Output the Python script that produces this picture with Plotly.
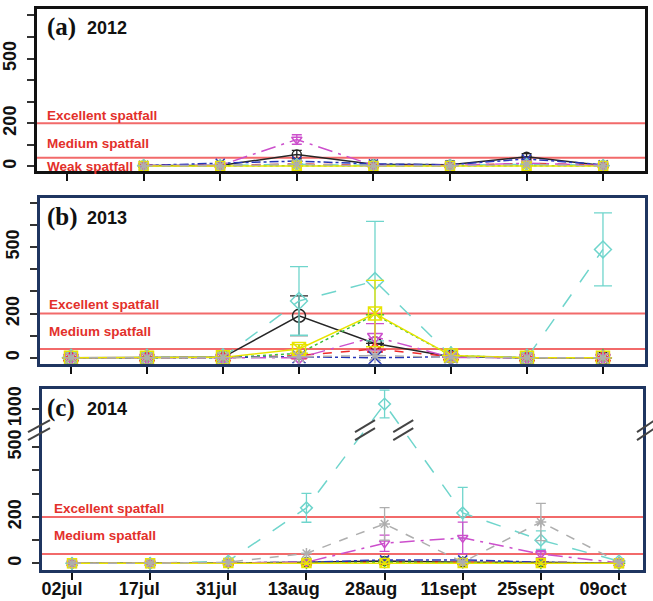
import plotly.graph_objects as go

W, H = 653, 601

dates = ["02jul", "17jul", "31jul", "13aug", "28aug", "11sept", "25sept", "09oct"]

# Spat counts per site, 2012 (no sampling on 02jul)
site1_2012 = [None, 5, 5, 55, 10, 8, 45, 5]
site2_2012 = [None, 8, 5, 12, 5, 5, 15, 5]
site3_2012 = [None, 3, 3, 5, 3, 3, 5, 3]
site4_2012 = [None, 5, 15, 25, 12, 8, 35, 8]
site5_2012 = [None, 5, 5, 10, 5, 5, 10, 5]
site6_2012 = [None, 5, 5, 125, 5, 5, 15, 5]
site7_2012 = [None, 2, 2, 3, 2, 2, 2, 2]
site8_2012 = [None, 3, 3, 10, 3, 3, 10, 3]
err1_2012 = [0, 0, 0, 20, 0, 0, 15, 0]
err6_2012 = [0, 0, 0, 22, 0, 0, 0, 0]

# 2013
site1_2013 = [0, 0, 2, 190, 65, 5, 0, 0]
site2_2013 = [0, 0, 0, 10, 40, 5, 0, 0]
site3_2013 = [0, 0, 0, 20, 195, 10, 0, 0]
site4_2013 = [0, 0, 2, 5, 0, 5, 0, 0]
site5_2013 = [0, 0, 2, 257, 347, 10, 0, 490]
site6_2013 = [0, 0, 0, 0, 95, 2, 0, 0]
site7_2013 = [0, 0, 2, 40, 200, 10, 0, 0]
site8_2013 = [0, 0, 0, 5, 10, 2, 0, 0]
err1_2013 = [0, 0, 0, 90, 0, 0, 0, 0]
err5_2013 = [0, 0, 0, 155, 270, 0, 0, 165]
err6_2013 = [0, 0, 0, 0, 60, 0, 0, 0]
err7_2013 = [0, 0, 0, 20, 150, 0, 0, 0]

# 2014
site1_2014 = [0, 0, 2, 5, 10, 5, 5, 0]
site2_2014 = [0, 0, 2, 2, 5, 5, 5, 0]
site3_2014 = [0, 0, 2, 2, 5, 5, 2, 0]
site4_2014 = [0, 0, 2, 5, 15, 15, 5, 0]
site5_2014 = [0, 0, 10, 239, 1021, 217, 100, 10]
site6_2014 = [0, 0, 2, 5, 87, 110, 40, 2]
site7_2014 = [0, 0, 2, 2, 2, 2, 2, 0]
site8_2014 = [0, 0, 5, 43, 170, 5, 178, 5]
err5_2014 = [0, 0, 0, 62, 60, 110, 40, 0]
err6_2014 = [0, 0, 0, 0, 35, 68, 15, 0]
err8_2014 = [0, 0, 0, 0, 70, 0, 80, 0]

# Spatfall class thresholds
medium_threshold = 40
excellent_threshold = 200

# Broken axis for 2014: values above the break are shifted down by GAP
BREAK_AT = 574
GAP = 335


def broken(v):
    if v is None:
        return None
    return v if v < BREAK_AT else v - GAP


colors = ["#262626", "#ee2a2a", "#3cbf3c", "#2536b8", "#6fd5cc", "#cc4fcc", "#e8e400", "#aeaeae"]
symbols = ["circle-open", "triangle-up-open", "cross-thin-open", "x-thin-open",
           "diamond-open", "triangle-down-open", "square-x-open", "asterisk-open"]
dashes = ["solid", "dash", "dot", "dashdot", "longdash", "longdashdot", "solid", "dash"]


def px_x(x):
    return x / W


def px_y(y):
    return 1 - y / H


panels = [
    dict(year="2012", tag="(a)", xa="x", ya="y",
         series=[site1_2012, site2_2012, site3_2012, site4_2012,
                 site5_2012, site6_2012, site7_2012, site8_2012],
         errors={0: err1_2012, 5: err6_2012},
         xdom=[px_x(37), px_x(645)], ydom=[px_y(170), px_y(7)],
         xrange=[-0.392, 7.546], yrange=[-23, 730], frame="#111111",
         msize=9, ewidth=5, tfn=lambda v: v,
         title_y=25, exc_y=114, med_y=142, weak_y=165, label_x=45),
    dict(year="2013", tag="(b)", xa="x2", ya="y2",
         series=[site1_2013, site2_2013, site3_2013, site4_2013,
                 site5_2013, site6_2013, site7_2013, site8_2013],
         errors={0: err1_2013, 4: err5_2013, 5: err6_2013, 6: err7_2013},
         xdom=[px_x(40), px_x(645)], ydom=[px_y(363), px_y(197)],
         xrange=[-0.408, 7.553], yrange=[-27, 721], frame="#1f3560",
         msize=13, ewidth=9, tfn=lambda v: v,
         title_y=216, exc_y=304, med_y=331, weak_y=None, label_x=47),
    dict(year="2014", tag="(c)", xa="x3", ya="y3",
         series=[site1_2014, site2_2014, site3_2014, site4_2014,
                 site5_2014, site6_2014, site7_2014, site8_2014],
         errors={4: err5_2014, 5: err6_2014, 7: err8_2014},
         xdom=[px_x(42), px_x(643)], ydom=[px_y(570), px_y(388)],
         xrange=[-0.384, 7.307], yrange=[-29, 752], frame="#1f3560",
         msize=9, ewidth=5, tfn=broken,
         title_y=407, exc_y=508, med_y=535, weak_y=None, label_x=52),
]

fig = go.Figure()
shapes = []
annotations = []

for p in panels:
    for i, vals in enumerate(p["series"]):
        yv = [p["tfn"](v) for v in vals]
        err = p["errors"].get(i)
        ey = None
        if err is not None:
            ey = dict(type="data", array=err, visible=True, color=colors[i],
                      thickness=1.3, width=p["ewidth"])
        fig.add_trace(go.Scatter(
            x=dates, y=yv, mode="lines+markers",
            xaxis=p["xa"], yaxis=p["ya"],
            line=dict(color=colors[i], width=1.5, dash=dashes[i]),
            marker=dict(symbol=symbols[i], size=p["msize"], color=colors[i],
                        line=dict(color=colors[i], width=1.5)),
            error_y=ey, showlegend=False, hoverinfo="skip", connectgaps=False,
        ))

    # spatfall threshold lines
    for thr in (excellent_threshold, medium_threshold):
        shapes.append(dict(type="line", xref=p["xa"] + " domain", yref=p["ya"],
                           x0=0, x1=1, y0=p["tfn"](thr), y1=p["tfn"](thr),
                           line=dict(color="#f26a6a", width=2), layer="below"))

    lab_font = dict(family="Liberation Sans", size=13.5, color="#e3302b", weight="bold")
    annotations.append(dict(text="Excellent spatfall", xref="paper", yref="paper",
                            x=px_x(p["label_x"]), y=px_y(p["exc_y"]), xanchor="left",
                            yanchor="middle", showarrow=False, font=lab_font))
    annotations.append(dict(text="Medium spatfall", xref="paper", yref="paper",
                            x=px_x(p["label_x"]), y=px_y(p["med_y"]), xanchor="left",
                            yanchor="middle", showarrow=False, font=lab_font))
    if p["weak_y"] is not None:
        annotations.append(dict(text="Weak spatfall", xref="paper", yref="paper",
                                x=px_x(p["label_x"]), y=px_y(p["weak_y"]), xanchor="left",
                                yanchor="middle", showarrow=False, font=lab_font))

    annotations.append(dict(text=p["tag"], xref="paper", yref="paper",
                            x=px_x(45), y=px_y(p["title_y"]), xanchor="left", yanchor="middle",
                            showarrow=False,
                            font=dict(family="Liberation Serif", size=25, color="#111", weight="bold")))
    annotations.append(dict(text=p["year"], xref="paper", yref="paper",
                            x=px_x(85), y=px_y(p["title_y"] + 1), xanchor="left", yanchor="middle",
                            showarrow=False,
                            font=dict(family="Liberation Sans", size=18, color="#111", weight="bold")))


# break marks on the 2014 axis and on the series crossing it
def slash_pair(xref, xanchor, dx0, dx1):
    out = []
    for off in (4, -4):
        out.append(dict(type="line", xref=xref, yref="y3",
                        xsizemode="pixel", xanchor=xanchor, x0=dx0, x1=dx1,
                        ysizemode="pixel", yanchor=BREAK_AT, y0=-6 + off, y1=6 + off,
                        line=dict(color="#444444", width=2)))
    return out


cy = site5_2014
for k in range(len(cy) - 1):
    a, b = cy[k], cy[k + 1]
    if (a < BREAK_AT) != (b < BREAK_AT):
        da, db = broken(a), broken(b)
        frac = (BREAK_AT - da) / (db - da)
        shapes += slash_pair("x3", k + frac, -10, 10)
shapes += slash_pair("x3 domain", 0, -14, 8)
shapes += slash_pair("x3 domain", 1, -6, 12)

tick_font = dict(family="Liberation Sans", size=18, color="#111", weight="bold")

layout = dict(
    width=W, height=H, margin=dict(l=0, r=0, t=0, b=0),
    paper_bgcolor="white", plot_bgcolor="rgba(0,0,0,0)",
    shapes=shapes, annotations=annotations, showlegend=False,
)

for n, p in enumerate(panels):
    sx = "" if n == 0 else str(n + 1)
    layout["xaxis" + sx] = dict(
        domain=p["xdom"], anchor=p["ya"], type="category", categoryarray=dates,
        categoryorder="array", range=p["xrange"], showgrid=False, zeroline=False,
        showline=True, mirror=True, linewidth=3, linecolor=p["frame"],
        ticks="outside", ticklen=7, tickwidth=2, tickcolor="#111",
        showticklabels=False,
    )
    if n < 2:
        tv = [0, 100, 200, 300, 400, 500, 600, 700]
        tt = ["0", "", "200", "", "", "500", "", ""]
    else:
        tv = [0, 100, 200, 300, 400, 500, broken(1000)]
        tt = ["0", "", "200", "", "", "500", "1000"]
    layout["yaxis" + sx] = dict(
        domain=p["ydom"], anchor=p["xa"], range=p["yrange"], showgrid=False,
        zeroline=False, showline=True, mirror=True, linewidth=3, linecolor=p["frame"],
        ticks="outside", ticklen=7, tickwidth=1.5, tickcolor="#333",
        tickmode="array", tickvals=tv, ticktext=tt, tickangle=-90,
        tickfont=tick_font, ticklabelstandoff=4,
    )

# date labels under the bottom panel, on their own invisible subplot
fig.add_trace(go.Scatter(x=[0, 7], y=[None, None], xaxis="x4", yaxis="y4",
                         showlegend=False, hoverinfo="skip"))
layout["xaxis4"] = dict(
    domain=[0, 1], anchor="y4", range=[-0.802, 7.647], showgrid=False, zeroline=False,
    showline=False, ticks="", tickmode="array", tickvals=list(range(len(dates))),
    ticktext=dates, tickfont=dict(family="Liberation Sans", size=18, color="#111", weight="bold"),
    ticklabelstandoff=6,
)
layout["yaxis4"] = dict(domain=panels[2]["ydom"], anchor="x4", range=[0, 1], visible=False)

fig.update_layout(**layout)
fig.write_html("out.html")
